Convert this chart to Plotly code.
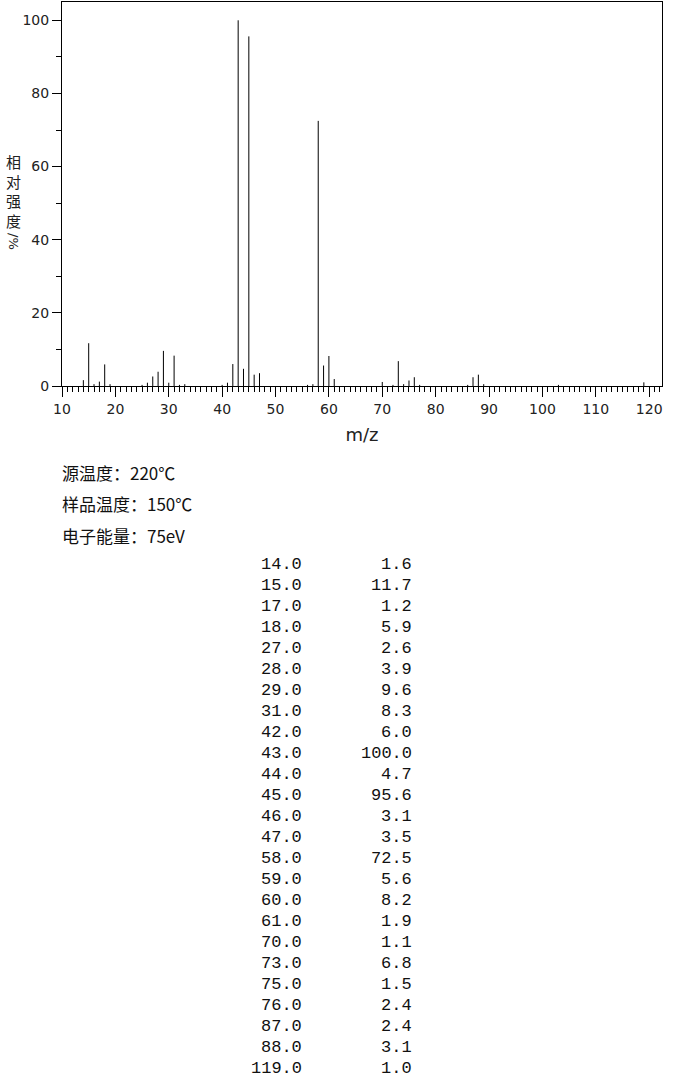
import plotly.graph_objects as go

# Table peaks (m/z, relative intensity %)
table_mz = [14.0, 15.0, 17.0, 18.0, 27.0, 28.0, 29.0, 31.0, 42.0, 43.0, 44.0, 45.0,
            46.0, 47.0, 58.0, 59.0, 60.0, 61.0, 70.0, 73.0, 75.0, 76.0, 87.0, 88.0, 119.0]
table_int = [1.6, 11.7, 1.2, 5.9, 2.6, 3.9, 9.6, 8.3, 6.0, 100.0, 4.7, 95.6,
             3.1, 3.5, 72.5, 5.6, 8.2, 1.9, 1.1, 6.8, 1.5, 2.4, 2.4, 3.1, 1.0]

# Minor peaks visible in the spectrum but below 1 %
minor_mz = [16, 19, 25, 26, 30, 32, 33, 40, 41, 56, 57, 72, 74, 77, 86, 89, 103]
minor_int = [0.5, 0.5, 0.3, 0.9, 0.9, 0.3, 0.5, 0.3, 0.9, 0.3, 0.5, 0.3, 0.5, 0.3, 0.3, 0.5, 0.3]

info_lines = ["源温度：220℃", "样品温度：150℃", "电子能量：75eV"]

x_range = [10, 122.4]
y_range = [0, 105]

# plot-area pixel geometry
W, H = 680, 1077
L, R, T, B = 62, 18, 2, 691
PW = W - L - R
PH = H - T - B


def px_x(px):
    return (px - L) / PW


def px_y(py):
    return (T + PH - py) / PH


all_mz = table_mz + minor_mz
all_int = table_int + minor_int
xs, ys = [], []
for m, v in zip(all_mz, all_int):
    xs += [m, m, None]
    ys += [0, v, None]

fig = go.Figure()
fig.add_trace(go.Scatter(x=xs, y=ys, mode="lines",
                         line=dict(color="black", width=1),
                         hoverinfo="skip", showlegend=False))

tick_font = dict(family="DejaVu Sans", size=14, color="#222")

fig.update_layout(
    width=W, height=H,
    margin=dict(l=L, r=R, t=T, b=B),
    paper_bgcolor="white", plot_bgcolor="white",
    showlegend=False,
    xaxis=dict(range=x_range, showgrid=False, zeroline=False,
               showline=True, linecolor="black", linewidth=1, mirror=True,
               ticks="outside", ticklen=10, tickcolor="black", tickwidth=1,
               dtick=10, tick0=0, tickfont=tick_font,
               minor=dict(dtick=1, tick0=0, ticks="outside", ticklen=5,
                          tickcolor="black", tickwidth=1),
               title=dict(text="m/z", font=dict(family="DejaVu Sans", size=18, color="#222"),
                          standoff=12)),
    yaxis=dict(range=y_range, showgrid=False, zeroline=False,
               showline=True, linecolor="black", linewidth=1, mirror=True,
               ticks="outside", ticklen=9, tickcolor="black", tickwidth=1,
               dtick=20, tick0=0, tickfont=tick_font,
               minor=dict(dtick=10, tick0=0, ticks="outside", ticklen=5,
                          tickcolor="black", tickwidth=1)),
)

ann = []
# y-axis label (stacked upright characters + rotated "/%")
ann.append(dict(text="相<br>对<br>强<br>度", xref="paper", yref="paper",
                x=px_x(13), y=px_y(191), xanchor="center", yanchor="middle",
                showarrow=False, borderpad=0,
                font=dict(family="Noto Sans CJK SC", size=15, color="#222")))
ann.append(dict(text="/%", xref="paper", yref="paper", textangle=90,
                x=px_x(13), y=px_y(241), xanchor="center", yanchor="middle",
                showarrow=False, borderpad=0,
                font=dict(family="DejaVu Sans", size=13, color="#222")))

# info lines
for i, t in enumerate(info_lines):
    ann.append(dict(text=t, xref="paper", yref="paper",
                    x=px_x(60), y=px_y(472 + 31.5 * i), xanchor="left", yanchor="middle",
                    showarrow=False,
                    font=dict(family="Noto Sans CJK SC", size=17, color="#111")))

# peak table
mono = dict(family="Liberation Mono", size=17, color="#111")
for i, (m, v) in enumerate(zip(table_mz, table_int)):
    yy = px_y(564 + 21 * i)
    ann.append(dict(text=f"{m:.1f}", xref="paper", yref="paper",
                    x=px_x(303), y=yy, xanchor="right", yanchor="middle",
                    showarrow=False, borderpad=0, font=mono))
    ann.append(dict(text=f"{v:.1f}", xref="paper", yref="paper",
                    x=px_x(413), y=yy, xanchor="right", yanchor="middle",
                    showarrow=False, borderpad=0, font=mono))

fig.update_layout(annotations=ann)
fig.write_html("out.html", config={"displayModeBar": False},
               post_script="document.body.style.margin='0';")
